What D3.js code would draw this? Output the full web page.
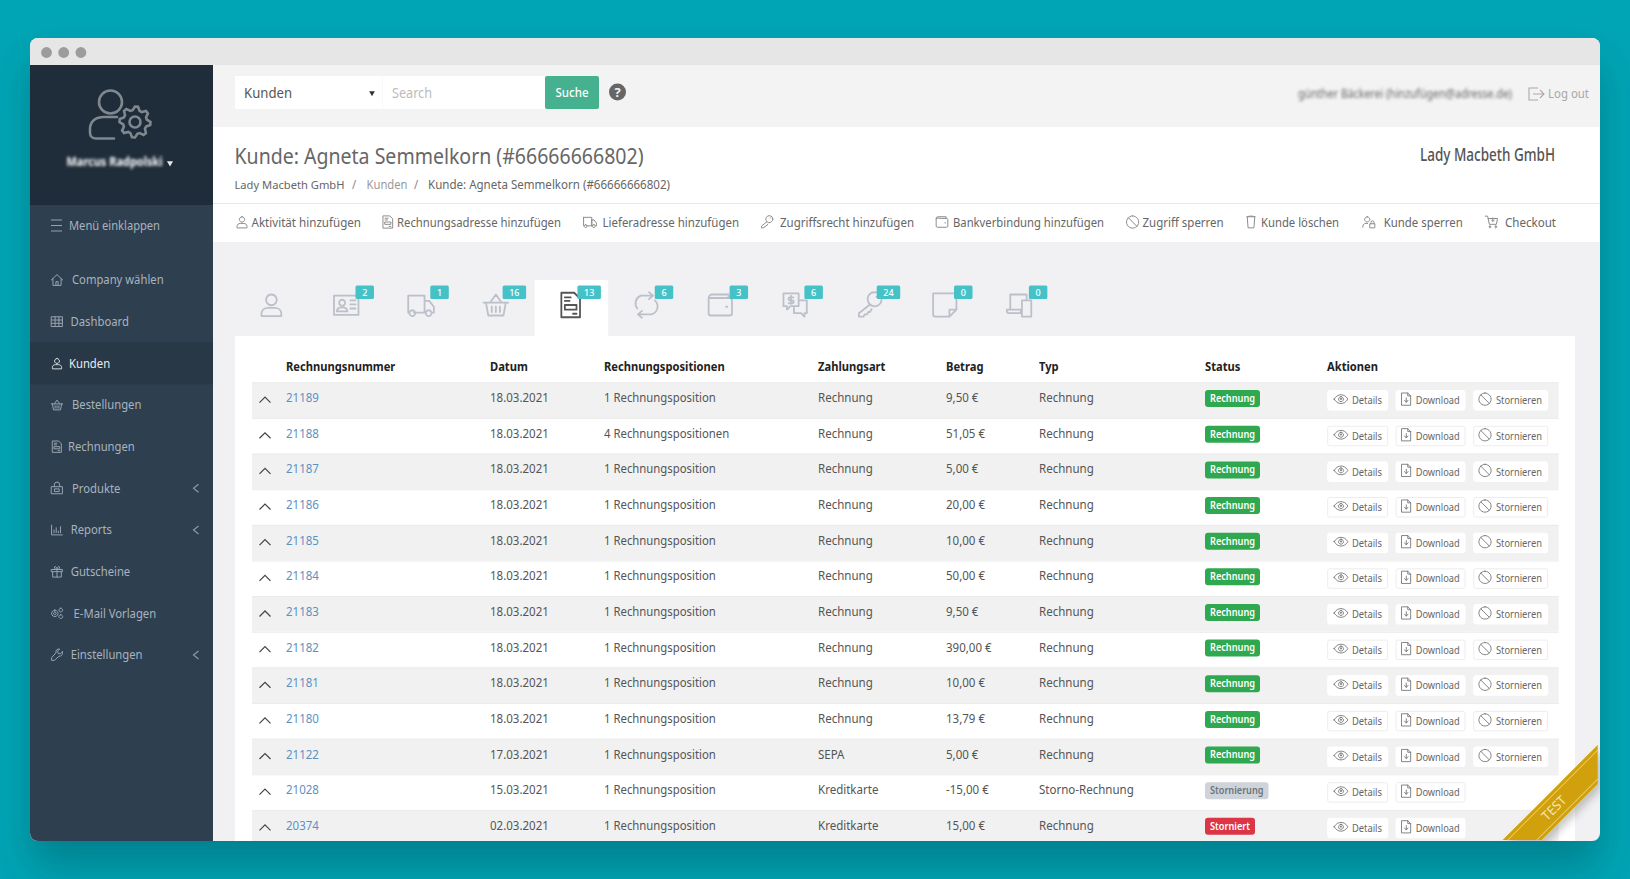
<!DOCTYPE html>
<html>
<head>
<meta charset="utf-8">
<script src="https://cdn.jsdelivr.net/npm/d3@7"></script>
<style>
html,body{margin:0;padding:0;background:#00a5b5;overflow:hidden}
svg{display:block}
text{font-family:"Noto Sans",sans-serif}
</style>
</head>
<body>
<div id="charts"></div>
<script>
// table values
var rechnungsnummer = ["21189","21188","21187","21186","21185","21184","21183","21182","21181","21180","21122","21028","20374"];
var datum = ["18.03.2021","18.03.2021","18.03.2021","18.03.2021","18.03.2021","18.03.2021","18.03.2021","18.03.2021","18.03.2021","18.03.2021","17.03.2021","15.03.2021","02.03.2021"];
var positionen = [1,4,1,1,1,1,1,1,1,1,1,1,1];
var zahlungsart = ["Rechnung","Rechnung","Rechnung","Rechnung","Rechnung","Rechnung","Rechnung","Rechnung","Rechnung","Rechnung","SEPA","Kreditkarte","Kreditkarte"];
var betrag = [9.5,51.05,5,20,10,50,9.5,390,10,13.79,5,-15,15];
var typ = ["Rechnung","Rechnung","Rechnung","Rechnung","Rechnung","Rechnung","Rechnung","Rechnung","Rechnung","Rechnung","Rechnung","Storno-Rechnung","Rechnung"];
var statusListe = ["Rechnung","Rechnung","Rechnung","Rechnung","Rechnung","Rechnung","Rechnung","Rechnung","Rechnung","Rechnung","Rechnung","Stornierung","Storniert"];
var headers = ["Rechnungsnummer","Datum","Rechnungspositionen","Zahlungsart","Betrag","Typ","Status","Aktionen"];

// tabs and menus
var tabIcons = ["user","card","truck","basket","invoice","loop","wallet","chat","key","note","devices"];
var tabCounts = [null,2,1,16,13,6,3,6,24,0,0];
var menuLabels = ["Company wählen","Dashboard","Kunden","Bestellungen","Rechnungen","Produkte","Reports","Gutscheine","E-Mail Vorlagen","Einstellungen"];
var menuIcons = ["house","grid","user","basket","invoice","bag","bars","gift","gears","wrench"];
var menuSub = ["Produkte","Reports","Einstellungen"];
var actionLabels = ["Aktivität hinzufügen","Rechnungsadresse hinzufügen","Lieferadresse hinzufügen","Zugriffsrecht hinzufügen","Bankverbindung hinzufügen","Zugriff sperren","Kunde löschen","Kunde sperren","Checkout"];
var actionIcons = ["user","invoice","truck","key","wallet","ban","trash","userlock","cart"];

var width = 1630, height = 879;
var win = {x:30, y:38, w:1570, h:803};
var colX = [286,490,604,818,946,1039,1205,1327];

var svg = d3.select("#charts").append("svg").attr("width",width).attr("height",height);
var defs = svg.append("defs");

defs.append("filter").attr("id","winShadow").attr("x","-10%").attr("y","-10%").attr("width","120%").attr("height","125%")
    .append("feDropShadow").attr("dx",0).attr("dy",26).attr("stdDeviation",20).attr("flood-color","#00454f").attr("flood-opacity",0.38);
defs.append("filter").attr("id","blurName").append("feGaussianBlur").attr("stdDeviation",1.5);
defs.append("filter").attr("id","blurMail").append("feGaussianBlur").attr("stdDeviation",1.4);
defs.append("filter").attr("id","ribShadow").attr("x","-30%").attr("y","-30%").attr("width","160%").attr("height","160%")
    .append("feDropShadow").attr("dx",3).attr("dy",5).attr("stdDeviation",4).attr("flood-color","#000").attr("flood-opacity",0.22);
defs.append("clipPath").attr("id","winClip").append("rect")
    .attr("x",win.x).attr("y",win.y).attr("width",win.w).attr("height",win.h).attr("rx",8);

var icons = {
    user:"M12 3a4.6 4.6 0 1 0 .01 0zM3.5 21.5v-2.2c0-3 2.6-4.8 5.5-4.8h6c2.9 0 5.5 1.8 5.5 4.8v2.2z",
    card:"M1.5 4h21v16.5h-21zM8.5 7.5a2.6 2.6 0 1 0 .01 0zM4 17.5c0-2.6 2-3.5 4.5-3.5s4.5.9 4.5 3.5zM15.5 8h4.5M15.5 11.5h4.5M15.5 15h4.5",
    truck:"M1 4h14v14.5h-9M1 4v14.5h1M15 8.5h4l4 5v5h-2M15 18.5h1M15 8.5v10M4.5 16.5a2.5 2.5 0 1 0 .01 0zM18.5 16.5a2.5 2.5 0 1 0 .01 0z",
    basket:"M1.5 10h21M3.5 10l2 11h13l2-11M7 10l5-7 5 7M8.5 13.5v4.5M12 13.5v4.5M15.5 13.5v4.5",
    invoice:"M4 1.5h11l5 5v16H4zM7 5.5h5M7 8.5h4M7 12h10v4H7zM14 19.5h3",
    loop:"M5 15a7 7 0 0 1 3-11h10M15 1l3.5 3L15 7M20 8a7 7 0 0 1-3 12H6M9 17l-3.5 3L9 23",
    wallet:"M2 6a3 3 0 0 1 3-3h14v3M2 6v13a2 2 0 0 0 2 2h16a2 2 0 0 0 2-2V8a2 2 0 0 0-2-2zM17 13.5h1",
    chat:"M2 2h13v11H8l-3 3v-3H2zM15 8h7v11h-2v3l-3-3h-6v-6M8.5 4v7M10.5 5.5H7.5a1 1 0 0 0 0 2.5h2a1 1 0 0 1 0 2.5H6.5",
    key:"M22 7a6 6 0 1 1-11.5-2.3A6 6 0 0 1 22 7zM11.5 12L2.5 19v3h4l1-2h2l1-2h1.5l1.5-2.5M17.5 5h.1",
    note:"M2 2h20v14l-6 6H4a2 2 0 0 1-2-2zM22 16h-6v6",
    devices:"M4 16V3h14v4M1 16h12v3H3a2 2 0 0 1-2-2zM14 8h8v14h-8z",
    eye:"M1 12c3-5 7-7 11-7s8 2 11 7c-3 5-7 7-11 7s-8-2-11-7zM12 8a4 4 0 1 0 .01 0zM12 11a1 1 0 1 0 .01 0z",
    file:"M5 1.5h10l5 5v16H5zM15 1.5v5h5M12.5 10v7M9.5 14l3 3.5 3-3.5",
    ban:"M12 1.5a10.5 10.5 0 1 0 .01 0zM4.7 4.7l14.6 14.6",
    trash:"M5 3h14M7 3l1-1h8l1 1M5.5 3l1.5 19h10l1.5-19",
    userlock:"M9 3a4.5 4.5 0 1 0 .01 0zM1.5 21v-2c0-3 2.5-4.5 5-4.5h3M14 15h8v7h-8zM15.5 15v-2.5a2.5 2.5 0 0 1 5 0V15",
    cart:"M1 2h4l3 14h12l2-10H6M9 19a1.5 1.5 0 1 0 .01 0zM19 19a1.5 1.5 0 1 0 .01 0zM14 5v6M11.5 8.5l2.5 2.5 2.5-2.5",
    house:"M1.5 12L12 2l10.5 10M4.5 9.5V22h15V9.5M10 22v-7h4v7",
    grid:"M2 3h20v18H2zM2 9h20M2 15h20M8.5 3v18M15.5 3v18",
    bag:"M2 9h20v13H2zM7 9V5.5a5 5 0 0 1 10 0V9M8 13h8v5H8z",
    bars:"M2 3v18h20M6.5 17v-5M10.5 17V8M14.5 17v-3M18.5 17V6",
    gift:"M2 8h20v4H2zM4 12v10h16V12M12 8v14M12 8C9 8 6.5 6.5 7.5 3.5S12 4 12 8zM12 8c3 0 5.5-1.5 4.5-4.5S12 4 12 8z",
    gears:"M8 6a6 6 0 1 0 .01 0zM8 9.5a2.5 2.5 0 1 0 .01 0zM19 2.5a3.5 3.5 0 1 0 .01 0zM19 14.5a3.5 3.5 0 1 0 .01 0z",
    wrench:"M22 6l-4 4-4-1-1-4 4-4c-4-1-8 2-7 7L2 17v5h5l9-8c5 1 7-4 6-8z"
};

function icon(parent, name, cx, cy, size, color, sw) {
    var k = size/24;
    parent.append("path")
        .attr("d",icons[name])
        .attr("transform","translate("+(cx-size/2)+","+(cy-size/2)+") scale("+k+")")
        .attr("fill","none")
        .attr("stroke",color)
        .attr("stroke-width",sw/k)
        .attr("stroke-linejoin","round")
        .attr("stroke-linecap","round");
}

// text helper, squeezes the wider font onto the width it has in the picture
function label(parent, x, y, str, size, color, opt) {
    opt = opt || {};
    var t = parent.append("text")
        .attr("x",x).attr("y",y)
        .attr("dy","0.35em")
        .attr("font-size",size)
        .attr("fill",color)
        .attr("font-weight",opt.weight || 400)
        .attr("text-anchor",opt.anchor || "start")
        .text(str);
    var len = opt.w || t.node().getComputedTextLength()*(opt.k || 0.95);
    t.attr("textLength",len).attr("lengthAdjust","spacingAndGlyphs");
    return t;
}

// background and window
svg.append("rect").attr("width",width).attr("height",height).attr("fill","#00a5b5");
svg.append("rect").attr("x",win.x).attr("y",win.y).attr("width",win.w).attr("height",win.h).attr("rx",8)
    .attr("fill","#f1f1f3").attr("filter","url(#winShadow)");

var app = svg.append("g").attr("clip-path","url(#winClip)");
app.append("rect").attr("x",win.x).attr("y",win.y).attr("width",win.w).attr("height",27).attr("fill","#e6e6e6");
app.selectAll(".dot").data(d3.range(3)).enter().append("circle")
    .classed("dot",true)
    .attr("cx",d => 46.5+d*17.2).attr("cy",52.5).attr("r",5.4).attr("fill","#9c9c9c");

// sidebar
var sideW = 183;
var side = app.append("g");
side.append("rect").attr("x",win.x).attr("y",65).attr("width",sideW).attr("height",776).attr("fill","#2e3f50");
side.append("rect").attr("x",win.x).attr("y",65).attr("width",sideW).attr("height",140).attr("fill","#1f2c39");

// logo, person plus gear
var logo = side.append("g").attr("fill","none").attr("stroke","#7f878f").attr("stroke-width",2.6).attr("stroke-linecap","round");
logo.append("circle").attr("cx",110.5).attr("cy",102).attr("r",11.5);
logo.append("path").attr("d","M114 138.5H96c-3 0-6-2-6-5.5v-4c0-8 6-12 14-12h13");
logo.append("circle").attr("cx",135).attr("cy",122).attr("r",5.5);
logo.append("path").attr("d",d3.lineRadial().curve(d3.curveLinearClosed)(d3.range(32).map(function(i){
        return [i*Math.PI*2/32, (i%4<2) ? 15.5 : 12];
    })))
    .attr("transform","translate(135,122)");

label(side,66.5,162,"Marcus Radpolski",12.5,"#fff",{w:96,weight:700}).attr("filter","url(#blurName)");
side.append("path").attr("d",d3.symbol(d3.symbolTriangle,16)()).attr("transform","translate(170,163) rotate(180)").attr("fill","#e8e8e8");

side.append("path").attr("d","M51 220h11M51 225.5h11M51 231h11").attr("stroke","#98a3ae").attr("stroke-width",1.1);
label(side,69,226,"Menü einklappen",12.5,"#a9b3bd",{w:91});

var menuY = d3.scalePoint().domain(menuLabels).range([280,655]);
var menuTextX = d3.scaleOrdinal(menuLabels,[72,70.6,69,72,68,72,70.7,70.7,73.6,70.7]);

side.append("rect").attr("x",win.x).attr("y",menuY("Kunden")-21).attr("width",sideW).attr("height",42).attr("fill","#293846");

var menuRow = side.selectAll(".menu").data(menuLabels).enter().append("g").classed("menu",true);
menuRow.each(function(d,i){
    var g = d3.select(this);
    var on = d === "Kunden";
    icon(g,menuIcons[i],57,menuY(d),13,on ? "#d5dade" : "#98a3ae",1);
    label(g,menuTextX(d),menuY(d),d,12.5,on ? "#e8ecef" : "#a9b3bd",{k:0.9});
    if (menuSub.indexOf(d) >= 0) {
        g.append("path").attr("d","M2.5,-4 L-2.5,0 L2.5,4")
            .attr("transform","translate(196,"+menuY(d)+")")
            .attr("fill","none").attr("stroke","#8e9aa6").attr("stroke-width",1.2);
    }
});

// top bar
var top_ = app.append("g");
top_.append("rect").attr("x",213).attr("y",65).attr("width",1387).attr("height",62).attr("fill","#f3f3f3");
top_.append("rect").attr("x",235).attr("y",76).attr("width",147).attr("height",33).attr("fill","#fff");
top_.append("rect").attr("x",382.5).attr("y",76).attr("width",163).attr("height",33).attr("fill","#fff");
top_.append("rect").attr("x",545).attr("y",76).attr("width",54).attr("height",33).attr("rx",2).attr("fill","#45b18e");
label(top_,244,92.5,"Kunden",15,"#555",{w:48});
top_.append("path").attr("d",d3.symbol(d3.symbolTriangle,14)()).attr("transform","translate(372,93) rotate(180)").attr("fill","#333");
label(top_,392,92.5,"Search",15,"#bbb",{w:40});
label(top_,572,92.5,"Suche",12.5,"#fff",{anchor:"middle",w:33,weight:500});
top_.append("circle").attr("cx",617.5).attr("cy",92).attr("r",8.5).attr("fill","#666");
label(top_,617.5,92,"?",13,"#f3f3f3",{anchor:"middle",weight:700,k:1});
label(top_,1298,94,"günther Bäckerei (hinzufügen@adresse.de)",12,"#666",{w:214}).attr("filter","url(#blurMail)");
top_.append("path").attr("d","M1538,88h-9v12h9M1533,94h11M1540,90l4,4-4,4").attr("fill","none").attr("stroke","#aaa").attr("stroke-width",1.1);
label(top_,1548,94,"Log out",12.5,"#a8a8a8",{w:41});

// customer header
var head = app.append("g");
head.append("rect").attr("x",213).attr("y",127).attr("width",1387).attr("height",115).attr("fill","#fff");
head.append("line").attr("x1",213).attr("x2",1600).attr("y1",203.5).attr("y2",203.5).attr("stroke","#e7e7e7");
label(head,234.5,156,"Kunde: Agneta Semmelkorn (#66666666802)",21.5,"#666",{w:409});
label(head,1555,155,"Lady Macbeth GmbH",18,"#555",{anchor:"end",w:135,weight:500});
label(head,234.5,185,"Lady Macbeth GmbH",11.5,"#666",{w:110});
label(head,354,185,"/",12,"#888",{anchor:"middle"});
label(head,366.5,185,"Kunden",12,"#999",{w:41});
label(head,416,185,"/",12,"#888",{anchor:"middle"});
label(head,428,185,"Kunde: Agneta Semmelkorn (#66666666802)",12,"#666",{w:242});

// toolbar
var actionIconX = d3.scaleOrdinal(actionLabels,[242,388,590,767,942,1132.6,1251,1369,1491.7]);
var actionX = d3.scaleOrdinal(actionLabels,[251.5,397,602.5,780,953,1142.5,1261,1383.7,1505]);
var actionEnd = d3.scaleOrdinal(actionLabels,[361,561,739,914,1104,1223.7,1339,1462.7,1556]);
head.selectAll(".action").data(actionLabels).enter().append("g").classed("action",true).each(function(d,i){
    var g = d3.select(this);
    icon(g,actionIcons[i],actionIconX(d),222,14,"#8d8d8d",1);
    label(g,actionX(d),222.5,d,12.5,"#666",{w:actionEnd(d)-actionX(d)});
});

// tabs
var tabX = d3.scalePoint().domain(tabIcons).range([271.4,1019.6]);
var tabs = app.append("g");
tabs.append("rect").attr("x",534.7).attr("y",280).attr("width",73.5).attr("height",60).attr("fill","#fff");
tabs.selectAll(".tab").data(tabIcons).enter().append("g").classed("tab",true).each(function(d,i){
    var g = d3.select(this);
    var cx = tabX(d);
    icon(g,d,cx,305,28,d === "invoice" ? "#555" : "#bcc0ca",1.8);
    if (tabCounts[i] !== null) {
        var str = String(tabCounts[i]);
        var w = str.length > 1 ? 23.5 : 18.5;
        g.append("rect").attr("x",cx+18.5-w/2).attr("y",285.5).attr("width",w).attr("height",13.5).attr("rx",1.5).attr("fill","#45c2c7");
        label(g,cx+18.5,292.5,str,9.5,"#fff",{anchor:"middle",weight:500});
    }
});

// table
var panel = app.append("g");
panel.append("rect").attr("x",235).attr("y",336).attr("width",1340).attr("height",520).attr("fill","#fff");

panel.selectAll(".head").data(headers).enter().append("g").classed("head",true).each(function(d,i){
    label(d3.select(this),colX[i],367,d,12,"#222",{weight:700,k:0.93});
});

var rowY = d3.scaleBand().domain(rechnungsnummer).range([382.3,382.3+13*35.64]);
var deFormat = d3.formatLocale({decimal:",",thousands:".",grouping:[3],currency:["","\u00a0€"],minus:"-"}).format("$,.2f");
var statusColor = d3.scaleOrdinal(["Rechnung","Stornierung","Storniert"],["#2fa84f","#ced4da","#dc3545"]);
var statusText = d3.scaleOrdinal(["Rechnung","Stornierung","Storniert"],["#fff","#6c757d","#fff"]);
var statusW = d3.scaleOrdinal(["Rechnung","Stornierung","Storniert"],[55,63.5,50]);

var buttons = [
    {name:"Details",x:1327.7,w:60,icon:"eye",ix:1341,tx:1352,tw:30,iw:15},
    {name:"Download",x:1396,w:69,icon:"file",ix:1406,tx:1415.7,tw:44,iw:14},
    {name:"Stornieren",x:1473.7,w:74,icon:"ban",ix:1485,tx:1496,tw:46,iw:14}
];

var rows = panel.selectAll(".row").data(rechnungsnummer).enter().append("g").classed("row",true);
rows.each(function(d,i){
    var g = d3.select(this);
    var y0 = rowY(d), h = rowY.bandwidth(), cy = y0+h/2;
    var striped = i%2 === 0;
    g.append("rect").attr("x",252).attr("y",y0).attr("width",1306.7).attr("height",h)
        .attr("fill",striped ? "#f1f1f1" : "#fff");
    g.append("line").attr("x1",252).attr("x2",1558.7).attr("y1",y0+0.5).attr("y2",y0+0.5).attr("stroke","#ebebeb");
    g.append("path").attr("d","M-5.5,3 L0,-2.5 L5.5,3")
        .attr("transform","translate(265,"+(cy-0.5)+")")
        .attr("fill","none").attr("stroke","#444").attr("stroke-width",1.2);

    var ty = cy-2.2;
    label(g,colX[0],ty,d,12,"#5b92c2",{k:0.96});
    label(g,colX[1],ty,datum[i],12,"#555",{k:0.96});
    label(g,colX[2],ty,positionen[i]+(positionen[i] > 1 ? " Rechnungspositionen" : " Rechnungsposition"),12,"#555",{k:0.945});
    label(g,colX[3],ty,zahlungsart[i],12,"#555",{k:0.96});
    label(g,colX[4],ty,deFormat(betrag[i]),12,"#555",{k:0.96});
    label(g,colX[5],ty,typ[i],12,"#555",{k:0.96});

    var st = statusListe[i];
    g.append("rect").attr("x",colX[6]).attr("y",cy-10).attr("width",statusW(st)).attr("height",17).attr("rx",3).attr("fill",statusColor(st));
    label(g,colX[6]+5,cy-1.8,st,10.5,statusText(st),{weight:600,w:statusW(st)-10});

    buttons.forEach(function(b){
        if (b.name === "Stornieren" && st !== "Rechnung") return;
        g.append("rect").attr("x",b.x).attr("y",cy-9.5).attr("width",b.w).attr("height",19.5).attr("rx",2)
            .attr("fill","#fff").attr("stroke",striped ? "#fff" : "#ededed");
        icon(g,b.icon,b.ix,cy-1,b.iw,"#777",0.9);
        label(g,b.tx,cy+0.5,b.name,10.5,"#666",{w:b.tw});
    });
});

// test ribbon in the corner
var rib = app.append("g").attr("filter","url(#ribShadow)");
rib.append("path").attr("d","M1597.7,745L1502.7,840H1541.7L1597.7,784Z").attr("fill","#d1a007");
rib.append("path").attr("d","M1597.7,750L1507.7,840M1597.7,779L1536.7,840").attr("fill","none").attr("stroke","#f0d98a").attr("stroke-width",1);
app.append("text").attr("transform","translate(1554,808) rotate(-45)")
    .attr("text-anchor","middle").attr("dy","0.35em").attr("font-size",13).attr("fill","#f4e7b5").text("TEST");
</script>
</body>
</html>
